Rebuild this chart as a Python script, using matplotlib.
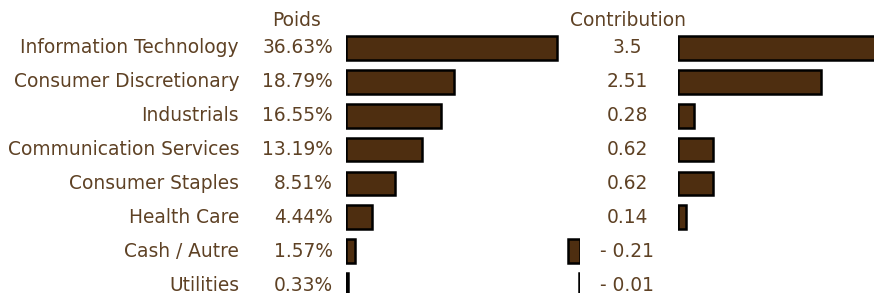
import numpy as np
import matplotlib.pyplot as plt

# sector data
sectors = ['Information Technology', 'Consumer Discretionary', 'Industrials',
           'Communication Services', 'Consumer Staples', 'Health Care',
           'Cash / Autre', 'Utilities']
poids = [36.63, 18.79, 16.55, 13.19, 8.51, 4.44, 1.57, 0.33]
contrib = [3.5, 2.51, 0.28, 0.62, 0.62, 0.14, -0.21, -0.01]
contrib_labels = ['3.5', '2.51', '0.28', '0.62', '0.62', '0.14', '- 0.21', '- 0.01']

W, H = 874, 293
txt = '#5e4124'
bar_fill = '#4e2e10'
fs = 13.4

fig = plt.figure(figsize=(W / 100, H / 100), dpi=100)

def axes_px(x0, x1):
    # rows span y=31..302 px (from top)
    return fig.add_axes([x0 / W, (H - 302) / H, (x1 - x0) / W, 271 / H])

y = np.arange(len(sectors))

# text layer
ax_t = axes_px(0, W)
ax_t.set_xlim(0, W)
ax_t.set_ylim(len(sectors) - 0.5, -0.5)
ax_t.axis('off')
for i, s in enumerate(sectors):
    ax_t.text(239, i, s, ha='right', va='center', color=txt, fontsize=fs)
    ax_t.text(333, i, f'{poids[i]:.2f}%', ha='right', va='center', color=txt, fontsize=fs)
    ax_t.text(627, i, contrib_labels[i], ha='center', va='center', color=txt, fontsize=fs)
ax_t.text(297, -0.8, 'Poids', ha='center', va='center', color=txt, fontsize=fs)
ax_t.text(628, -0.8, 'Contribution', ha='center', va='center', color=txt, fontsize=fs)

def style(ax, xlim):
    ax.set_xlim(*xlim)
    ax.set_ylim(len(sectors) - 0.5, -0.5)
    ax.axis('off')
    ax.patch.set_alpha(0)

# poids bars
ax_p = axes_px(346, 560)
ax_p.barh(y, poids, height=0.7, color=bar_fill, edgecolor='black', linewidth=1.8)
style(ax_p, (0, 214 / 5.75))

# positive contributions
c = np.array(contrib)
pos = c >= 0
ax_c = axes_px(678, W)
ax_c.barh(y[pos], c[pos], height=0.7, color=bar_fill, edgecolor='black', linewidth=1.8)
style(ax_c, (0, (W - 678) / 57))

# negative contributions
ax_n = axes_px(552, 580)
ax_n.barh(y[~pos], c[~pos], height=0.7, color=bar_fill, edgecolor='black', linewidth=1.8)
style(ax_n, (-28 / 57, 0))

fig.savefig('out.png', dpi=100)
